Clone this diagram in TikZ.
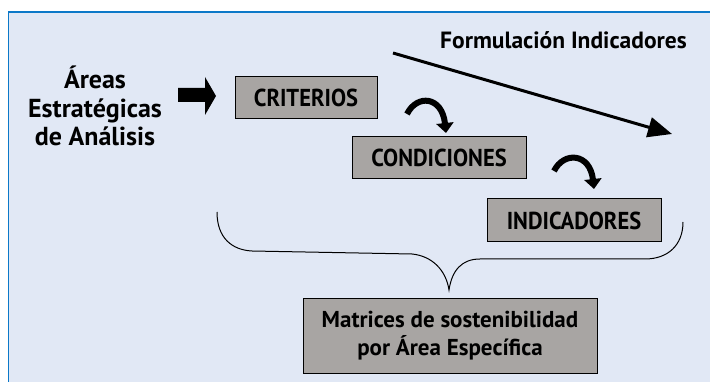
\documentclass[tikz,border=0pt]{standalone}
\usepackage{fontspec}
\setmainfont{PT Sans}
\newfontfamily\condfont{PT Sans}[FakeStretch=0.92]
\usetikzlibrary{arrows.meta}
\definecolor{panel}{HTML}{E1E8F5}
\definecolor{frame}{HTML}{0B78C8}
\definecolor{boxgray}{HTML}{A8A5A3}
\begin{document}
\begin{tikzpicture}[x=1pt,y=-1pt,
  box/.style={draw=black, line width=1pt, fill=boxgray, font=\condfont\bfseries\fontsize{24.5}{26}\selectfont, inner sep=0pt, minimum height=42pt},
  lbl/.style={font=\bfseries\fontsize{26}{28.5}\selectfont, align=center, inner sep=0pt},
  curvarrow/.style={line width=6pt, -{Triangle[length=10pt,width=17pt]}},
  longarrow/.style={line width=3pt, -{Triangle[length=24pt,width=20pt]}},
  brace/.style={line width=1pt}]
\useasboundingbox (0,0) rectangle (710,382);
\fill[panel] (8.5,12) rectangle (712,384);
\draw[frame, line width=1.5pt] (8.5,384) -- (8.5,12) -- (712,12);

\node[lbl] (areas) at (95,106) {Áreas\\Estratégicas\\de Análisis};
\node[box, minimum width=142pt] (crit) at (306,98) {CRITERIOS};
\node[box, minimum width=174pt] (cond) at (439,158) {CONDICIONES};
\node[box, minimum width=174pt, minimum height=43pt] (ind) at (574,220.5) {INDICADORES};
\node[box, minimum width=294pt, minimum height=74pt, font=\bfseries\fontsize{23}{28}\selectfont, align=center] (mat) at (450,336) {Matrices de sostenibilidad\\por Área Específica};
\node[lbl, font=\bfseries\fontsize{23.5}{28}\selectfont] (form) at (563.5,40) {Formulación Indicadores};

\fill (178,88) -- (205,88) -- (205,77) -- (216,96) -- (205,115) -- (205,102) -- (178,102) -- cycle;

\coordinate (c1s) at (407,114);
\coordinate (c1e) at (446,133);
\coordinate (c2s) at (554,171);
\coordinate (c2e) at (594,189);
\draw[curvarrow] (c1s) .. controls (417,94) and (442,96) .. (c1e);
\draw[curvarrow] (c2s) .. controls (564,151) and (590,153) .. (c2e);

\coordinate (la1) at (393,53);
\coordinate (la2) at (672,134);
\draw[longarrow] (la1) -- (la2);

\coordinate (bl) at (217,212);
\coordinate (bt) at (449,290);
\coordinate (br) at (683,222);
\draw[brace] (bl) .. controls (217,238) and (232,250) .. (252,251) -- (412,254) .. controls (432,256) and (446,270) .. (bt) .. controls (452,270) and (462,259) .. (480,259) -- (645,259) .. controls (668,259) and (683,245) .. (br);
\end{tikzpicture}
\end{document}
